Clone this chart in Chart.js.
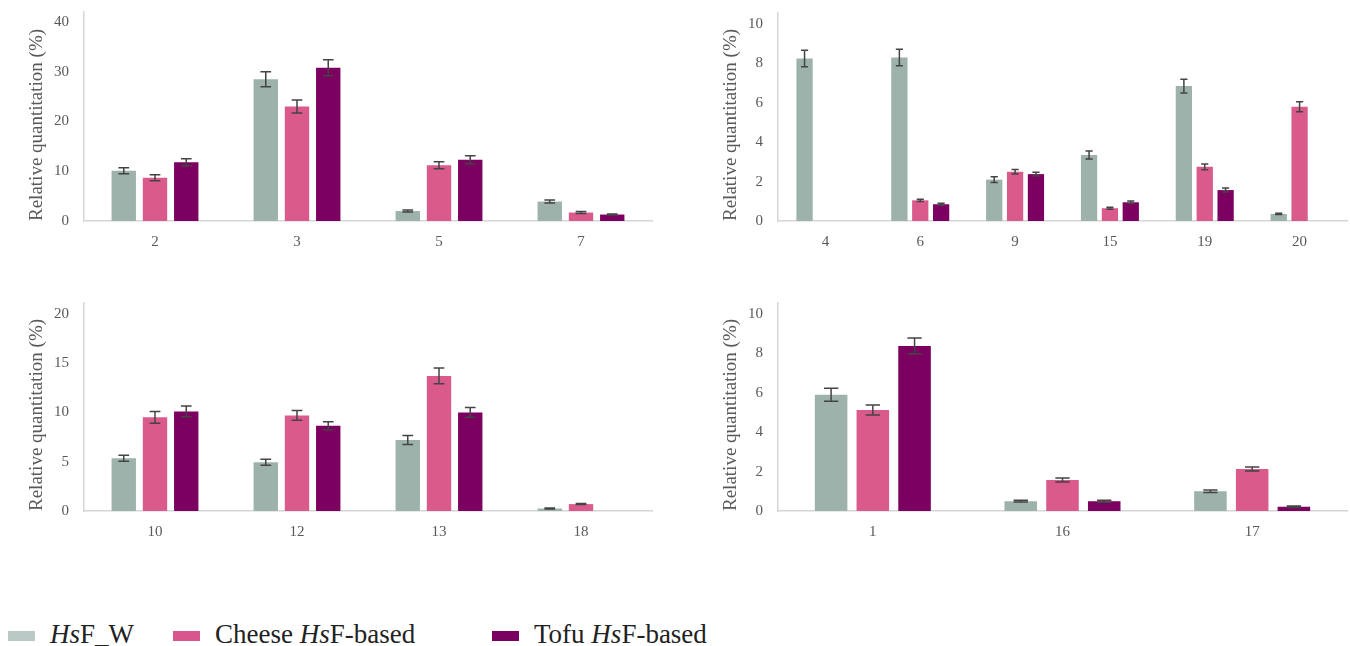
<!DOCTYPE html>
<html>
<head>
<meta charset="utf-8">
<script src="https://cdn.jsdelivr.net/npm/chart.js"></script>
<style>
  body { margin: 0; background: #fff; }
  .box { position: absolute; }
  .legend-item { position: absolute; top: 618px; display: flex; align-items: center; gap: 15px;
    font-family: "Liberation Serif", serif; font-size: 27px; color: #222; line-height: 32px; }
  .sw { width: 27px; height: 10px; display: inline-block; margin-top: 4px; }
</style>
</head>
<body>
<div class="box" style="left:0;top:0;width:662px;height:251px"><canvas id="c1"></canvas></div>
<div class="box" style="left:694px;top:0;width:656px;height:251px"><canvas id="c2"></canvas></div>
<div class="box" style="left:0;top:290px;width:662px;height:251px"><canvas id="c3"></canvas></div>
<div class="box" style="left:694px;top:290px;width:656px;height:251px"><canvas id="c4"></canvas></div>

<div class="legend-item" style="left:8px"><span class="sw" style="background:#b9c9c5"></span><span><i>Hs</i>F_W</span></div>
<div class="legend-item" style="left:173px"><span class="sw" style="background:#d8558e"></span><span>Cheese <i>Hs</i>F-based</span></div>
<div class="legend-item" style="left:492px"><span class="sw" style="background:#7a0062"></span><span>Tofu <i>Hs</i>F-based</span></div>

<script>
// series names
const seriesNames = ['HsF_W', 'Cheese HsF-based', 'Tofu HsF-based'];
const colors = ['#9cb2ab', '#da5a8c', '#7b0060'];

// panel 1
const cats1 = ['2', '3', '5', '7'];
const w1 = [10.1, 28.5, 2.0, 3.9];
const cheese1 = [8.7, 23.0, 11.2, 1.7];
const tofu1 = [11.8, 30.8, 12.3, 1.3];
const w1Err = [0.6, 1.5, 0.2, 0.3];
const cheese1Err = [0.6, 1.3, 0.7, 0.2];
const tofu1Err = [0.7, 1.6, 0.8, 0.1];

// panel 2
const cats2 = ['4', '6', '9', '15', '19', '20'];
const w2 = [8.25, 8.3, 2.1, 3.35, 6.85, 0.36];
const cheese2 = [0, 1.05, 2.5, 0.65, 2.75, 5.8];
const tofu2 = [0, 0.85, 2.38, 0.95, 1.57, 0];
const w2Err = [0.42, 0.42, 0.15, 0.2, 0.35, 0.03];
const cheese2Err = [0, 0.06, 0.12, 0.05, 0.15, 0.25];
const tofu2Err = [0, 0.05, 0.1, 0.06, 0.1, 0];

// panel 3
const cats3 = ['10', '12', '13', '18'];
const w3 = [5.35, 4.95, 7.2, 0.25];
const cheese3 = [9.5, 9.7, 13.7, 0.7];
const tofu3 = [10.1, 8.65, 10.0, 0];
const w3Err = [0.3, 0.3, 0.45, 0.05];
const cheese3Err = [0.6, 0.5, 0.8, 0.05];
const tofu3Err = [0.55, 0.4, 0.5, 0];

// panel 4
const cats4 = ['1', '16', '17'];
const w4 = [5.9, 0.5, 1.0];
const cheese4 = [5.13, 1.57, 2.13];
const tofu4 = [8.38, 0.5, 0.22];
const w4Err = [0.33, 0.04, 0.06];
const cheese4Err = [0.25, 0.1, 0.1];
const tofu4Err = [0.4, 0.05, 0.04];

// y axis: [top label, step, where the axis line stops]
const yTicks1 = [40, 10, 42];
const yTicks2 = [10, 2, 10.56];
const yTicks3 = [20, 5, 21.1];
const yTicks4 = [10, 2, 10.56];

// error bars drawn on top of the bars
const errorBars = {
    id: 'errorBars',
    afterDatasetsDraw(chart) {
        const ctx = chart.ctx;
        const y = chart.scales.y;
        ctx.save();
        ctx.strokeStyle = '#444';
        ctx.lineWidth = 1.5;
        chart.data.datasets.forEach((ds, i) => {
            chart.getDatasetMeta(i).data.forEach((bar, j) => {
                const e = ds.errors[j];
                if (!e) return;
                const v = ds.data[j];
                const top = y.getPixelForValue(v + e);
                const bot = y.getPixelForValue(v - e);
                const half = bar.width * 0.22;
                ctx.beginPath();
                ctx.moveTo(bar.x, top); ctx.lineTo(bar.x, bot);
                ctx.moveTo(bar.x - half, top); ctx.lineTo(bar.x + half, top);
                ctx.moveTo(bar.x - half, bot); ctx.lineTo(bar.x + half, bot);
                ctx.stroke();
            });
        });
        ctx.restore();
    }
};

function makeChart(id, cats, values, errs, yTicks, padTop, padRight) {
    const [topTick, step, axisMax] = yTicks;
    return new Chart(document.getElementById(id), {
        type: 'bar',
        data: {
            labels: cats,
            datasets: values.map((vals, i) => ({
                label: seriesNames[i],
                data: vals,
                errors: errs[i],
                backgroundColor: colors[i],
                categoryPercentage: 0.66,
                barPercentage: 0.78
            }))
        },
        options: {
            responsive: true,
            maintainAspectRatio: false,
            animation: false,
            layout: { padding: { top: padTop, right: padRight, left: 0, bottom: 0 } },
            plugins: { legend: { display: false }, tooltip: { enabled: false } },
            scales: {
                x: {
                    grid: { display: false, drawTicks: false },
                    border: { color: '#d6d6d6', width: 1.5 },
                    ticks: { color: '#595959', font: { family: 'Liberation Serif', size: 15 }, padding: 12 },
                    afterFit(s) { s.height = 30; }
                },
                y: {
                    min: 0,
                    max: axisMax,
                    grid: { display: false, drawTicks: false },
                    border: { color: '#d6d6d6', width: 1.5 },
                    ticks: { color: '#595959', font: { family: 'Liberation Serif', size: 15 }, padding: 15 },
                    afterBuildTicks(s) {
                        const t = [];
                        for (let v = 0; v <= topTick; v += step) t.push({ value: v });
                        s.ticks = t;
                    },
                    afterFit(s) { s.width = 84; s.paddingTop = 0; s.paddingBottom = 0; },
                    title: {
                        display: true,
                        text: 'Relative quantitation (%)',
                        align: 'start',
                        color: '#595959',
                        font: { family: 'Liberation Serif', size: 19 },
                        padding: { top: 26, bottom: 0 }
                    }
                }
            }
        },
        plugins: [errorBars]
    });
}

makeChart('c1', cats1, [w1, cheese1, tofu1], [w1Err, cheese1Err, tofu1Err], yTicks1, 12, 10);
makeChart('c2', cats2, [w2, cheese2, tofu2], [w2Err, cheese2Err, tofu2Err], yTicks2, 13, 3);
makeChart('c3', cats3, [w3, cheese3, tofu3], [w3Err, cheese3Err, tofu3Err], yTicks3, 13, 10);
makeChart('c4', cats4, [w4, cheese4, tofu4], [w4Err, cheese4Err, tofu4Err], yTicks4, 13, 3);
</script>
</body>
</html>
